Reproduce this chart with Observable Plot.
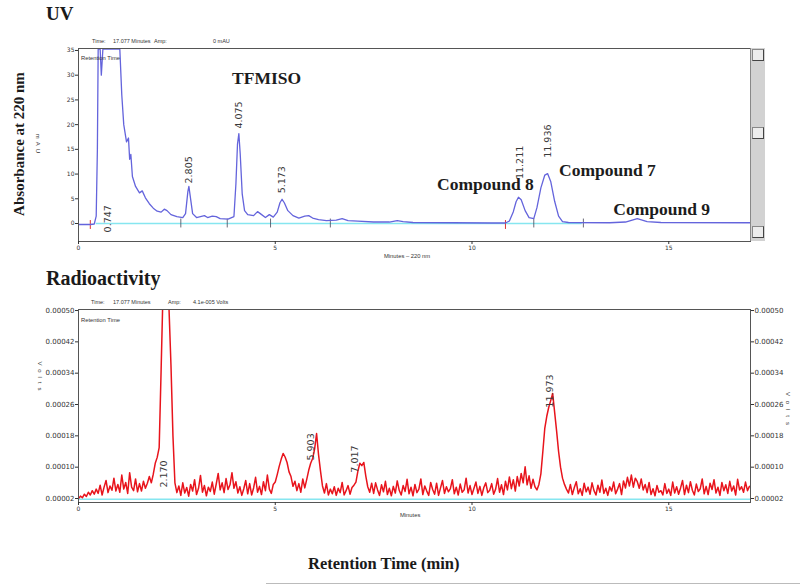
<!DOCTYPE html>
<html><head><meta charset="utf-8">
<script src="https://cdn.jsdelivr.net/npm/d3@7"></script>
<script src="https://cdn.jsdelivr.net/npm/@observablehq/plot@0.6"></script>
<style>
body{margin:0;background:#fff}
#fig{position:relative;width:800px;height:586px;overflow:hidden;background:#fff}
.t{position:absolute;white-space:nowrap;color:#1a1a1a;line-height:1}
.serif{font-family:"Liberation Serif","Times New Roman",serif;font-weight:bold}
.sm{font-family:"Liberation Sans",Arial,sans-serif;color:#333;transform:translateY(-50%)}
.plot{position:absolute;left:0}
.sb{position:absolute;left:750px;top:48px;width:15px;height:193px;background:#d2d2d2;border-left:1px solid #888;box-sizing:border-box}
.btn{position:absolute;left:1px;width:12px;height:12px;background:#ececec;border:1px solid #888;border-right-color:#444;border-bottom-color:#444;box-sizing:border-box}
</style></head><body><div id="fig"></div>
<script>
// ---------- UV trace (absorbance, mAU) ----------
const uvTime = [0.00,0.30,0.40,0.45,0.48,0.50,0.55,0.58,0.62,1.00,1.05,1.10,1.15,1.22,1.27,1.30,1.33,1.37,1.45,1.55,1.62,1.70,1.80,1.90,2.00,2.10,2.18,2.25,2.35,2.50,2.65,2.72,2.78,2.805,2.84,2.90,3.00,3.10,3.20,3.28,3.40,3.50,3.60,3.80,3.95,4.00,4.04,4.075,4.11,4.16,4.22,4.30,4.45,4.55,4.62,4.75,4.85,4.95,5.05,5.12,5.173,5.23,5.32,5.45,5.60,5.75,5.85,5.95,6.10,6.30,6.55,6.70,6.85,7.10,7.50,7.90,8.10,8.25,8.50,9.50,10.50,10.85,10.95,11.05,11.12,11.18,11.25,11.35,11.45,11.57,11.65,11.75,11.85,11.92,12.00,12.10,12.20,12.30,12.45,13.50,13.90,14.20,14.45,14.80,17.077];
const uvAbs  = [-0.2,-0.2,-0.1,1.5,15,35.3,35.3,30,35.3,35.3,35.3,26,20,16.5,17.3,13,14,9.5,7.5,6.2,6.6,5.2,4.0,3.1,2.5,2.3,2.9,2.6,1.8,1.4,1.2,2.0,6.5,7.5,5.5,2.0,1.2,1.4,1.6,1.2,1.5,1.4,1.0,0.9,1.4,8,16,18.2,14,6,2.6,1.8,1.6,2.4,2.0,1.2,1.8,1.3,2.3,4.2,4.9,4.2,2.6,1.6,1.1,1.5,1.6,1.1,0.8,0.6,0.7,1.0,0.6,0.5,0.3,0.3,0.6,0.4,0.2,0.15,0.1,0.1,0.5,2.4,4.4,5.3,4.8,2.6,1.2,1.0,3.2,7.2,9.8,10.1,8.5,4.5,1.5,0.4,0.2,0.15,0.3,1.0,0.4,0.2,0.15];
const uvYTicks = [0,5,10,15,20,25,30,35];
const xTicks = [0,5,10,15];
const uvPeakNames = ["0.747","2.805","4.075","5.173","11.211","11.936"];
const uvPeakTimes = [0.747,2.805,4.075,5.173,11.211,11.936];
const uvPeakLabelAt = [-1.8,8.1,19.2,6.1,9.0,13.3];
const compoundNames = ["TFMISO","Compound 8","Compound 7","Compound 9"];
const compoundX = [4.78,10.34,13.44,14.82];
const compoundY = [29.3,7.9,10.7,2.8];
const uvRedMarks = [0.30,10.85];
const uvDarkMarks = [2.60,3.78,4.88,6.40,11.57,12.83];

// ---------- Radioactivity trace (units of 1e-5 V, sampled every 0.05 min from 0) ----------
const radStep = 0.05;
const radSignal = [
2.0,2.6,2.2,3.1,2.5,3.6,2.9,4.0,3.1,4.4,
3.3,5.4,2.9,4.9,6.6,3.5,5.2,4.1,7.2,3.9,
5.6,3.6,8.0,4.4,6.1,3.3,8.6,4.9,4.0,7.0,
3.7,5.8,3.9,6.4,4.6,5.9,7.6,6.0,8.2,11.0,
12.5,15.0,35.0,56.0,62.0,60.0,50.5,36.0,18.0,6.0,
3.5,5.2,2.8,6.0,3.4,4.8,2.6,5.6,3.9,6.8,
3.0,4.6,7.9,3.6,5.3,2.7,4.9,3.8,6.2,3.1,
5.7,8.4,4.2,6.0,3.5,7.1,4.3,5.5,8.6,4.6,
6.3,3.4,5.0,2.8,4.5,6.6,3.2,5.8,2.9,4.7,
7.4,3.6,5.1,3.0,6.3,4.0,8.0,4.4,3.3,5.6,
6.2,8.1,10.2,12.0,13.5,12.6,11.2,8.8,7.6,5.1,
6.4,4.0,5.8,3.6,7.0,4.7,6.9,9.2,11.0,12.2,
14.6,18.6,13.2,9.0,5.2,3.4,5.8,2.9,4.4,3.2,
5.0,2.8,4.6,3.5,6.1,2.9,4.0,5.3,3.1,4.8,
5.4,6.2,9.0,11.0,10.4,11.2,7.8,5.0,3.6,5.9,
3.3,6.0,4.2,2.8,5.5,3.7,6.4,3.0,4.6,2.7,
5.1,3.4,6.5,4.1,2.9,5.3,3.8,6.9,3.2,4.9,
2.7,5.6,3.5,4.4,7.0,3.0,5.2,3.9,2.8,6.1,
4.3,3.1,5.9,2.8,4.7,6.6,3.3,5.0,3.7,4.5,
6.8,3.2,4.9,2.9,5.7,3.6,4.2,7.2,3.4,5.3,
3.0,4.6,6.2,3.3,5.1,2.8,4.8,6.0,3.5,4.1,
5.8,3.1,4.4,7.1,3.6,5.5,3.0,6.4,4.2,7.5,
4.5,6.8,3.9,7.6,5.2,8.4,6.0,10.1,5.5,7.8,
4.6,6.9,5.0,4.2,5.6,8.3,14.0,20.0,23.0,25.3,
27.0,28.8,24.0,19.2,14.0,10.0,7.2,5.6,4.4,3.4,
5.6,3.0,4.8,6.3,3.2,4.5,2.8,5.9,3.7,4.9,
3.1,6.0,4.0,2.9,5.4,3.6,6.7,3.3,4.6,2.8,
5.0,3.9,6.2,3.2,4.4,5.8,3.0,6.5,4.7,7.4,
5.2,8.0,4.9,7.2,6.3,4.6,7.0,4.2,5.6,3.5,
6.1,3.0,4.5,2.7,5.3,3.6,4.0,2.9,5.8,3.3,
4.4,2.8,6.2,3.4,5.0,3.1,4.7,6.6,3.0,5.4,
3.5,6.3,4.1,2.9,5.7,3.8,4.5,7.0,3.2,5.1,
3.0,5.9,4.3,6.8,3.4,4.9,2.8,6.1,4.0,5.5,
3.3,6.4,3.9,5.2,2.9,6.9,4.2,5.0,3.6,6.2,
4.0,5.1];
const radYTicks = [0.00002,0.00010,0.00018,0.00026,0.00034,0.00042,0.00050];
const radPeakNames = ["2.170","5.903","7.017","11.973"];
const radPeakTimes = [2.170,5.903,7.017,11.973];
const radPeakLabelAt = [4.8,11.7,8.6,25.2];

// ---------- build ----------
const fig = document.getElementById("fig");
const font = "DejaVu Sans, sans-serif";

const uvData = uvTime.map((t,i)=>({t, v: uvAbs[i]}));
const uvLabels = uvPeakNames.map((s,i)=>({s, t: uvPeakTimes[i], y: uvPeakLabelAt[i]}));
const comps = compoundNames.map((s,i)=>({s, t: compoundX[i], y: compoundY[i]}));

const uvPlot = Plot.plot({
  width:800, height:260, marginLeft:78, marginRight:50, marginTop:48, marginBottom:19,
  x:{domain:[0,17.077], label:null},
  y:{domain:[-3.64,35.4], label:null},
  style:{background:"transparent", fontFamily:font, color:"#333", overflow:"visible"},
  marks:[
    Plot.ruleY([0],{x1:0.45, x2:12.8, stroke:"#86e6f0", strokeWidth:1.6}),
    Plot.ruleX(uvRedMarks,{y1:-1.2, y2:0.6, stroke:"#d33", strokeWidth:1}),
    Plot.ruleX(uvDarkMarks,{y1:-0.9, y2:0.9, stroke:"#445", strokeWidth:0.8}),
    Plot.line(uvData,{x:"t", y:"v", stroke:"#6464dc", strokeWidth:1.3, clip:true}),
    Plot.frame({stroke:"#555"}),
    Plot.axisY({ticks:uvYTicks, tickSize:3, tickPadding:1, fontSize:6, tickFormat:d=>String(d), label:null}),
    Plot.axisX({ticks:xTicks, tickSize:3, tickPadding:1, fontSize:6, tickFormat:d=>String(d), label:null}),
    Plot.text(uvLabels,{x:"t", y:"y", text:"s", rotate:-90, textAnchor:"start", fontSize:9.5, fill:"#3a3a3a"}),
    Plot.text(comps,{x:"t", y:"y", text:"s", fontSize:17.5, fontWeight:"bold", fontFamily:"Liberation Serif, Times New Roman, serif", fill:"#1c1c1c"})
  ]
});
uvPlot.classList.add("plot"); uvPlot.style.top = "0px";
fig.appendChild(uvPlot);

const radData = radSignal.map((v,i)=>({t: +(i*radStep).toFixed(2), v: v*1e-5}));
const radLabels = radPeakNames.map((s,i)=>({s, t: radPeakTimes[i], y: radPeakLabelAt[i]*1e-5}));
const fmt5 = d=>d.toFixed(5);

const radPlot = Plot.plot({
  width:800, height:260, marginLeft:78, marginRight:50, marginTop:49, marginBottom:18,
  x:{domain:[0,17.077], label:null},
  y:{domain:[0.98e-5,50.26e-5], label:null},
  style:{background:"transparent", fontFamily:font, color:"#333", overflow:"visible"},
  marks:[
    Plot.ruleY([1.8e-5],{x1:0, x2:17.077, stroke:"#86e6f0", strokeWidth:1.4}),
    Plot.line(radData,{x:"t", y:"v", stroke:"#e8141c", strokeWidth:1.5, clip:true}),
    Plot.frame({stroke:"#555"}),
    Plot.axisY({anchor:"left", ticks:radYTicks, tickSize:3, tickPadding:1, fontSize:7, tickFormat:fmt5, label:null}),
    Plot.axisY({anchor:"right", ticks:radYTicks, tickSize:3, tickPadding:1, fontSize:7, tickFormat:fmt5, label:null}),
    Plot.axisX({ticks:xTicks, tickSize:3, tickPadding:1, fontSize:6, tickFormat:d=>String(d), label:null}),
    Plot.text(radLabels,{x:"t", y:"y", text:"s", rotate:-90, textAnchor:"start", fontSize:9.5, fill:"#3a3a3a"})
  ]
});
radPlot.classList.add("plot"); radPlot.style.top = "260px";
fig.appendChild(radPlot);

// ---------- text & decorations ----------
function txt(s, cls, css){const d=document.createElement("div"); d.className="t "+cls; d.textContent=s; Object.assign(d.style, css); fig.appendChild(d); return d;}
txt("UV","serif",{left:"46px", top:"4px", fontSize:"19px"});
txt("Radioactivity","serif",{left:"46px", top:"268px", fontSize:"20px"});
txt("Absorbance at 220 nm","serif",{left:"19px", top:"144px", fontSize:"15px", transform:"translate(-50%,-50%) rotate(-90deg)"});
txt("Retention Time (min)","serif",{left:"308px", top:"556px", fontSize:"16.5px"});
[["Time:",92,42],["17.077 Minutes",113,42],["Amp:",154,42],["0 mAU",213,42],
 ["Time:",91,303],["17.077 Minutes",113,303],["Amp:",168,303],["4.1e-005 Volts",193,303]]
 .forEach(([s,x,y])=>txt(s,"sm",{left:x+"px", top:y+"px", fontSize:"5.5px"}));
txt("Retention Time","sm",{left:"81px", top:"59px", fontSize:"5.8px"});
txt("Retention Time","sm",{left:"81px", top:"321px", fontSize:"5.8px"});
txt("Minutes \u2013 220 nm","sm",{left:"384px", top:"257px", fontSize:"5.8px"});
txt("Minutes","sm",{left:"400px", top:"516px", fontSize:"5.8px"});
txt("mAU","sm",{left:"38px", top:"145px", fontSize:"6px", letterSpacing:"3px", transform:"translate(-50%,-50%) rotate(90deg)"});
txt("Volts","sm",{left:"40px", top:"378px", fontSize:"6px", letterSpacing:"4px", transform:"translate(-50%,-50%) rotate(90deg)"});
txt("Volts","sm",{left:"788px", top:"411px", fontSize:"6px", letterSpacing:"5px", transform:"translate(-50%,-50%) rotate(90deg)"});
const sb=document.createElement("div"); sb.className="sb"; fig.appendChild(sb);
[1,79,178].forEach(y=>{const b=document.createElement("div"); b.className="btn"; b.style.top=y+"px"; sb.appendChild(b);});
const hr=document.createElement("div"); Object.assign(hr.style,{position:"absolute", left:"266px", top:"583px", width:"534px", height:"1px", background:"#bbb"}); fig.appendChild(hr);
</script></body></html>
